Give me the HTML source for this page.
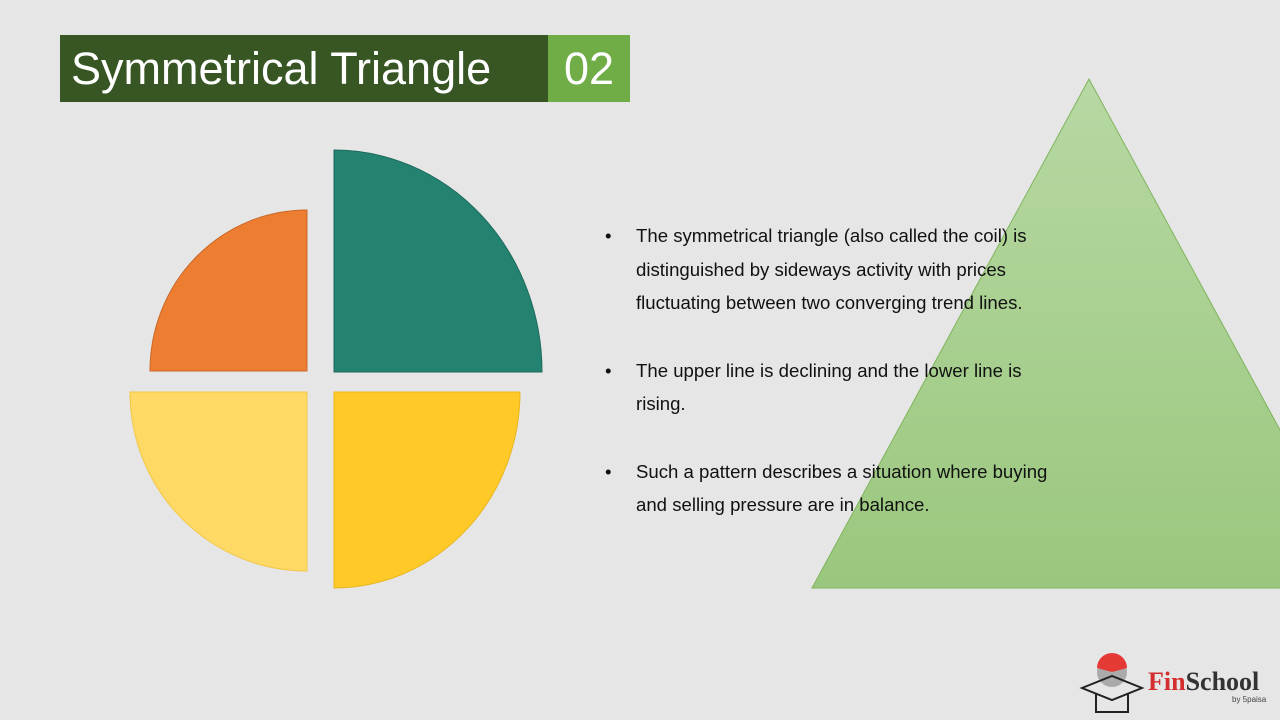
<!DOCTYPE html>
<html><head><meta charset="utf-8"><style>
body{margin:0;width:1280px;height:720px;overflow:hidden;background:#e6e6e6;font-family:"Liberation Sans",Arial,sans-serif;position:relative}
.t{position:absolute;top:35px;height:67px;color:#fff;font-size:45px;line-height:67px}
ul{position:absolute;left:608px;top:219px;margin:0;padding:0;list-style:none;font-size:18.6px;color:#111;width:455px}
li{position:relative;padding-left:28px;line-height:33.5px;margin-bottom:34px}
li:before{content:"•";position:absolute;left:-3px}
</style></head><body>
<svg width="1280" height="720" style="position:absolute;left:0;top:0">
<defs><linearGradient id="g" x1="0" y1="0" x2="0" y2="1"><stop offset="0" stop-color="#b7d8a3"/><stop offset="1" stop-color="#9ac77d"/></linearGradient></defs>
<polygon points="1089,79 812,588 1366,588" fill="url(#g)" stroke="#7fb45c" stroke-width="1"/>
<path d="M334,372 L334,150 A208,222 0 0 1 542,372 Z" fill="#248270" stroke="#1d6b5c"/>
<path d="M307,371 L150,371 A157,161 0 0 1 307,210 Z" fill="#ed7d31" stroke="#c9692a"/>
<path d="M307,392 L307,571 A177,179 0 0 1 130,392 Z" fill="#fed966" stroke="#f2c744"/>
<path d="M334,392 L520,392 A186,196 0 0 1 334,588 Z" fill="#ffca28" stroke="#e8b520"/>
<circle cx="1112" cy="672" r="15" fill="#aaa"/>
<path d="M1097,668 A15,15 0 0 1 1127,668 L1112,672Z" fill="#e53935"/>
<path d="M1082,688 L1112,676 L1142,688 L1112,700Z M1096,694 L1096,712 L1128,712 L1128,694" fill="none" stroke="#222" stroke-width="2"/>
<text x="1148" y="690" font-family="Liberation Serif,serif" font-weight="bold" font-size="26" fill="#d32f2f">Fin<tspan fill="#333">School</tspan></text>
<text x="1232" y="702" font-size="8" fill="#444" font-family="Liberation Sans,sans-serif">by 5paisa</text>
</svg>
<div class="t" style="left:60px;width:488px;background:#375623;padding-left:11px;box-sizing:border-box">Symmetrical Triangle</div>
<div class="t" style="left:548px;width:82px;background:#70ad47;text-align:center">02</div>
<ul>
<li>The symmetrical triangle (also called the coil) is distinguished by sideways activity with prices fluctuating between two converging trend lines.</li>
<li>The upper line is declining and the lower line is rising.</li>
<li>Such a pattern describes a situation where buying and selling pressure are in balance.</li>
</ul>
</body></html>
